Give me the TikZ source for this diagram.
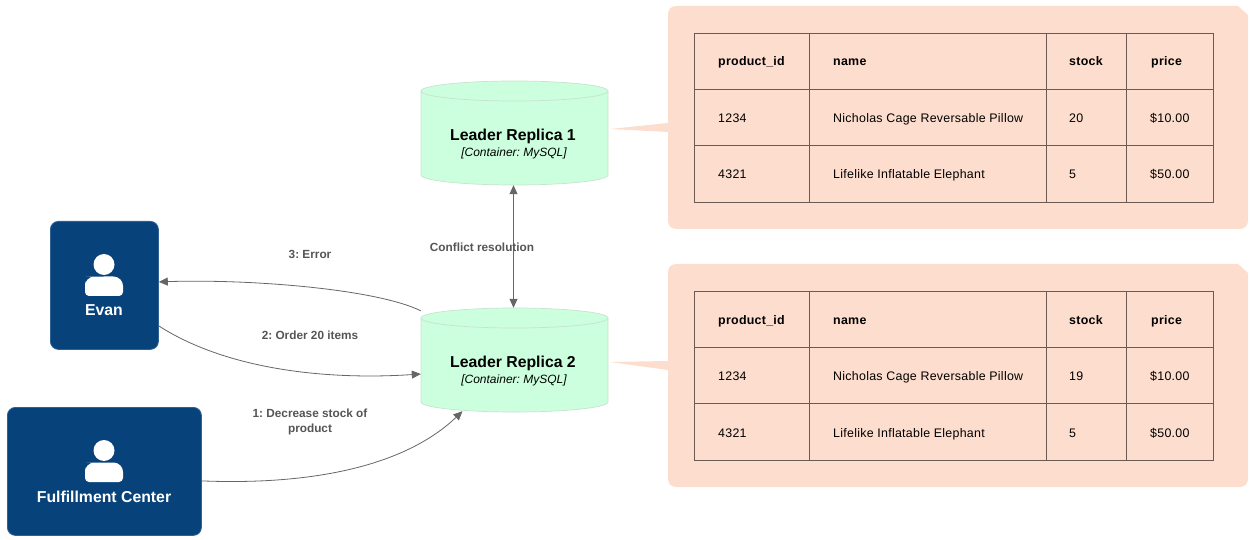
\documentclass[tikz,border=0pt]{standalone}
\usepackage{fontspec}
\setmainfont{Liberation Sans}
\newfontfamily\cellfont[LetterSpace=2.2]{Liberation Sans}
\AtBeginDocument{\frenchspacing}
\usetikzlibrary{arrows.meta}
\definecolor{actorfill}{HTML}{08427B}
\definecolor{actorline}{HTML}{2E6295}
\definecolor{dbfill}{HTML}{CCFFDD}
\definecolor{dbline}{HTML}{C8E2D0}
\definecolor{notefill}{HTML}{FDDDCD}
\definecolor{gridline}{HTML}{6B5A52}
\definecolor{edgeline}{HTML}{666666}
\definecolor{edgetext}{HTML}{555555}
\tikzset{
  x=1pt,y=-1pt,
  actorbox/.style={draw=actorline,fill=actorfill,rounded corners=8pt,line width=.8pt,inner sep=0,anchor=north west},
  actorlabel/.style={text=white,font=\fontsize{15.8}{18}\selectfont\bfseries,inner sep=0},
  dbanchor/.style={minimum width=187pt,minimum height=104pt,inner sep=0},
  dbshape/.style={fill=dbfill,draw=dbline,line width=.7pt},
  dbtitle/.style={font=\fontsize{15.8}{18}\selectfont\bfseries,inner sep=0},
  dbsub/.style={font=\fontsize{12}{14}\selectfont\itshape,inner sep=0},
  notepoly/.style={fill=notefill,draw=none},
  tabline/.style={draw=gridline,line width=.7pt},
  thead/.style={font=\cellfont\fontsize{12.4}{14}\selectfont\bfseries,anchor=base west,inner sep=0},
  tcell/.style={font=\cellfont\fontsize{12.4}{14}\selectfont,anchor=base west,inner sep=0},
  conn/.style={draw=edgeline,line width=.8pt,-{Triangle[length=9pt,width=8pt]}},
  connboth/.style={draw=edgeline,line width=.8pt,{Triangle[length=9pt,width=8pt]}-{Triangle[length=9pt,width=8pt]}},
  connlabel/.style={text=edgetext,font=\fontsize{11.8}{15}\selectfont\bfseries,align=center,inner sep=0},
}
\newcommand{\personicon}[2]{%
  \fill[white] (#1,#2-20.5) circle[radius=10.5];
  \fill[white,rounded corners=4pt] (#1-19,#2+11) -- (#1-19,#2+0) [rounded corners=9pt] -- (#1-19,#2-8) -- (#1-9,#2-8.5) [rounded corners=0pt] -- (#1+9,#2-8.5) [rounded corners=9pt] -- (#1+19,#2-8) [rounded corners=4pt] -- (#1+19,#2+11) -- cycle;
}
\newcommand{\dbcyl}[3]{% name, top y, title
  \node[dbanchor] (#1) at (514.5,#2+52) {};
  \path[dbshape] (421,#2+10) arc[start angle=180,end angle=360,x radius=93.5,y radius=10]
     -- (608,#2+94) arc[start angle=0,end angle=180,x radius=93.5,y radius=10] -- cycle;
  \path[draw=dbline,line width=.7pt] (421,#2+10) arc[start angle=180,end angle=0,x radius=93.5,y radius=10];
  \node[dbtitle] (#1t) at (513,#2+55) {#3};
  \node[dbsub] (#1s) at (514,#2+72) {[Container: MySQL]};
}
\newcommand{\notebox}[6]{% prefix, top, tip y, base1, base2, stock
  \path[notepoly] (676,#2) -- (1238,#2) -- (1248,#2+9) -- (1248,#2+215)
    arc[start angle=0,end angle=90,radius=8] -- (676,#2+223)
    arc[start angle=90,end angle=180,radius=8] -- (668,#5)
    -- (610,#3) -- (668,#4) -- (668,#2+8) arc[start angle=180,end angle=270,radius=8] -- cycle;
  \draw[tabline] (694.5,#2+27) rectangle (1213.5,#2+196.5);
  \draw[tabline] (694.5,#2+83) -- (1213.5,#2+83) (694.5,#2+139.5) -- (1213.5,#2+139.5);
  \draw[tabline] (809.5,#2+27) -- (809.5,#2+196.5) (1046.5,#2+27) -- (1046.5,#2+196.5) (1126.5,#2+27) -- (1126.5,#2+196.5);
  \node[thead] (#1a) at (718,#2+60) {product\_id};
  \node[thead] (#1b) at (833,#2+60) {name};
  \node[thead] (#1c) at (1069,#2+60) {stock};
  \node[thead] (#1d) at (1151,#2+60) {price};
  \node[tcell] (#1e) at (718,#2+117) {1234};
  \node[tcell] (#1f) at (833,#2+117) {Nicholas Cage Reversable Pillow};
  \node[tcell] (#1g) at (1069,#2+117) {#6};
  \node[tcell] (#1h) at (1150,#2+117) {\$10.00};
  \node[tcell] (#1i) at (718,#2+173) {4321};
  \node[tcell] (#1j) at (833,#2+173) {Lifelike Inflatable Elephant};
  \node[tcell] (#1k) at (1069,#2+173) {5};
  \node[tcell] (#1l) at (1150,#2+173) {\$50.00};
}
\begin{document}
\begin{tikzpicture}
\useasboundingbox (0,0) rectangle (1254,540);
% notes
\notebox{n}{6}{129}{123}{132}{20}
\notebox{m}{264}{362}{361}{370}{19}
% actors
\node[actorbox,minimum width=108pt,minimum height=128pt] (evan) at (50,221) {};
\node[actorbox,minimum width=194pt,minimum height=128pt] (fc) at (7,407) {};
\personicon{104}{285}
\personicon{104}{471}
\node[actorlabel] (evanl) at (104,310.5) {Evan};
\node[actorlabel] (fcl) at (104,496.5) {Fulfillment Center};
% databases
\dbcyl{lr}{81}{Leader Replica 1}
\dbcyl{ls}{308}{Leader Replica 2}
% connectors
\draw[connboth] ([xshift=-1pt]lr.south) -- ([xshift=-1pt]ls.north);
\draw[conn] ([yshift=-3pt]ls.north west) .. controls +(-45,-22) and +(90,-3) .. ([yshift=3.5pt]evan.east);
\draw[conn] ([yshift=-40.5pt]evan.east) .. controls +(70,45) and +(-90,6) .. ([yshift=-14pt]ls.west);
\draw[conn] ([yshift=-9.5pt]fc.east) .. controls +(99,4) and +(-62,59) .. ([xshift=-52pt,yshift=1pt]ls.south);
% labels
\node[connlabel] (e3) at (310,254) {3: Error};
\node[connlabel] (e2) at (310,335) {2: Order 20 items};
\node[connlabel] (e1) at (310,421.5) {1: Decrease stock of\\product};
\node[connlabel] (e4) at (482,247) {Conflict resolution};
\end{tikzpicture}
\end{document}
